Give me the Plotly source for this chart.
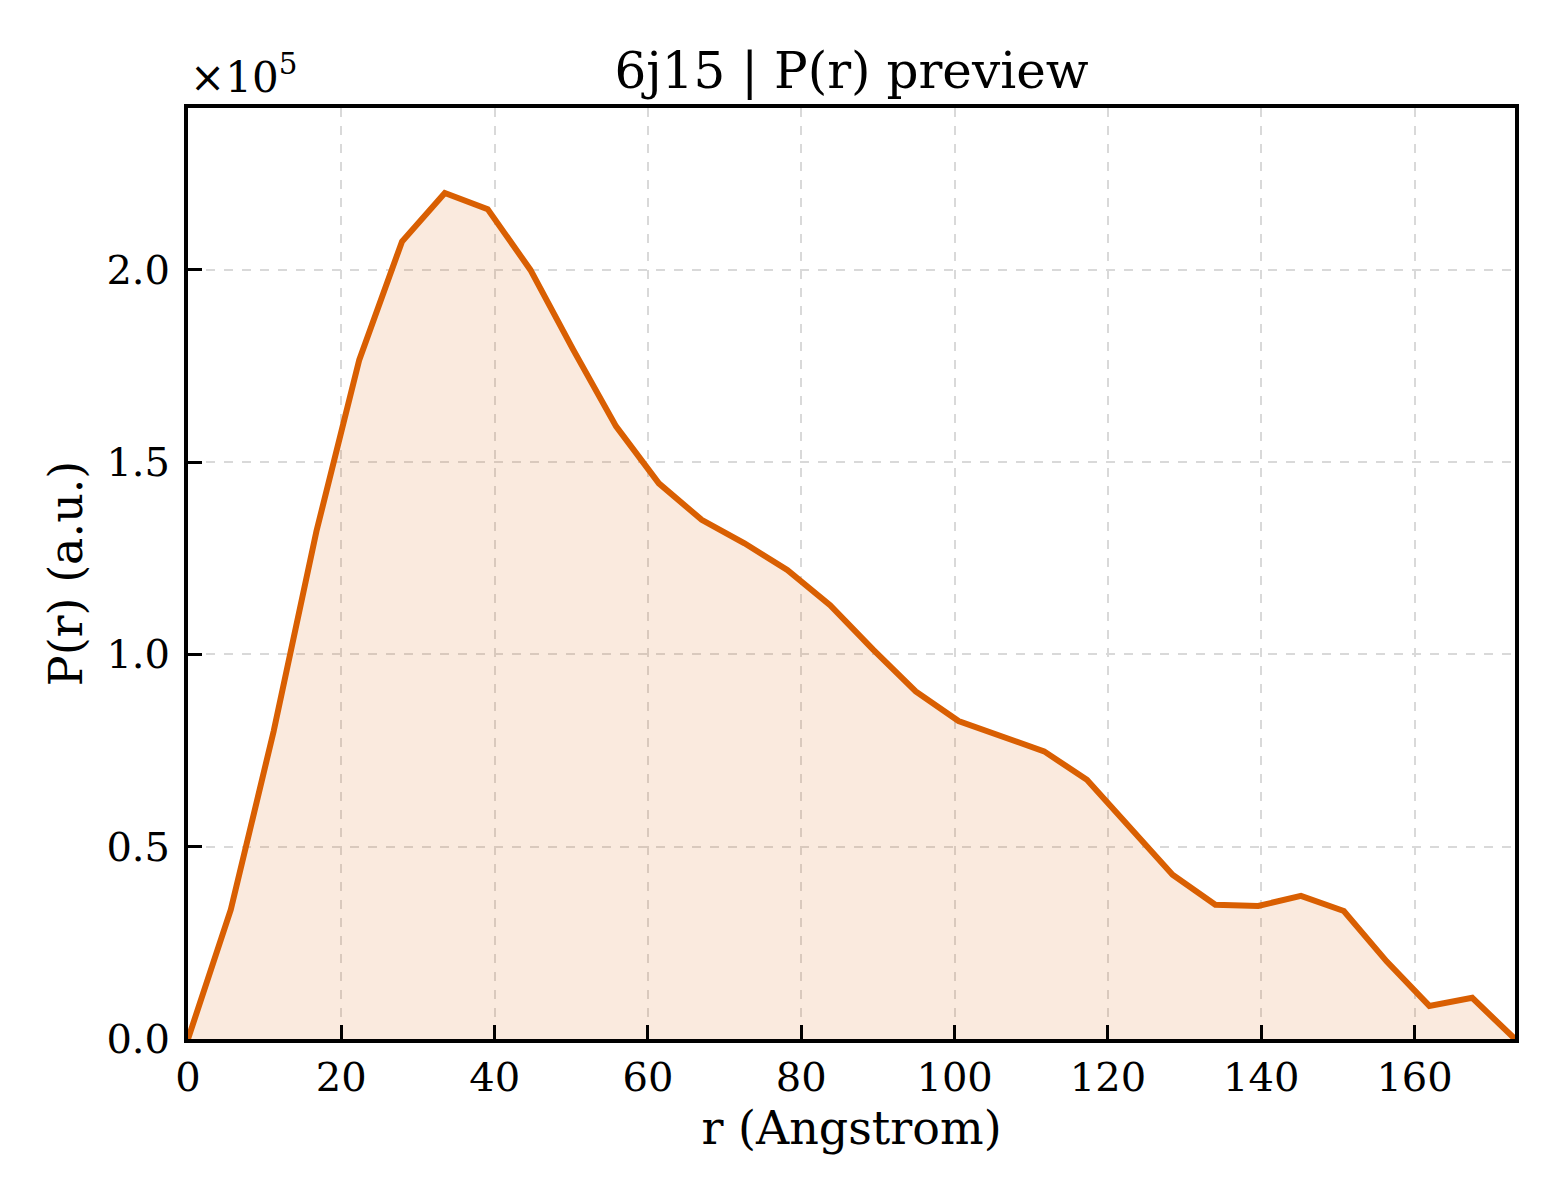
import plotly.graph_objects as go

_LINE = "#d95f02"
_FILL = "rgba(217, 95, 2, 0.13)"
_GRID = "#d9d9d9"
_FONT = "DejaVu Serif"

# P(r) curve
r_values = [
    0.00, 5.58, 11.17, 16.75, 22.34, 27.92, 33.50, 39.09, 44.67, 50.26,
    55.84, 61.42, 67.01, 72.59, 78.17, 83.76, 89.34, 94.93, 100.51, 106.09,
    111.68, 117.26, 122.85, 128.43, 134.01, 139.60, 145.18, 150.77, 156.35, 161.93,
    167.52, 173.10,
]
pr_values = [
    0, 33600, 80000, 132000, 176600, 207400, 220000, 215800, 200000, 179200,
    159300, 144500, 135000, 128900, 122000, 112800, 101300, 90400, 82700, 78600,
    74800, 67400, 55300, 42700, 34900, 34600, 37200, 33300, 20200, 8600,
    10700, 0,
]

y_tick_vals = [0, 50000, 100000, 150000, 200000]
y_tick_text = ["0.0", "0.5", "1.0", "1.5", "2.0"]
x_tick_vals = [0, 20, 40, 60, 80, 100, 120, 140, 160]

fig = go.Figure(go.Scatter(
    x=r_values,
    y=pr_values,
    mode="lines",
    line={"color": _LINE, "width": 6},
    fill="tozeroy",
    fillcolor=_FILL,
    hoverinfo="skip",
    showlegend=False,
))

axis_common = {
    "showline": True,
    "linecolor": "black",
    "linewidth": 4,
    "mirror": True,
    "ticks": "inside",
    "ticklen": 14,
    "tickwidth": 3,
    "tickcolor": "black",
    "showgrid": True,
    "gridcolor": _GRID,
    "gridwidth": 2,
    "griddash": "dash",
    "zeroline": False,
    "tickfont": {"family": _FONT, "size": 40, "color": "black"},
}

# the page body adds 8px around the figure, so size and margins allow for it
fig.update_layout(
    width=1552,
    height=1192,
    paper_bgcolor="white",
    plot_bgcolor="white",
    margin={"l": 180, "r": 45, "t": 100, "b": 161},
    font={"family": _FONT, "color": "black"},
    title={
        "text": "6j15 | P(r) preview",
        "font": {"family": _FONT, "size": 50},
        "x": 0.5,
        "xref": "paper",
        "y": 1 - 62 / 1192,
        "yref": "container",
        "xanchor": "center",
        "yanchor": "middle",
    },
    xaxis={
        **axis_common,
        "range": [0, 173.1],
        "tickvals": x_tick_vals,
        "title": {"text": "r (Angstrom)", "font": {"family": _FONT, "size": 46}, "standoff": 14},
    },
    yaxis={
        **axis_common,
        "range": [0, 242100],
        "tickvals": y_tick_vals,
        "ticktext": y_tick_text,
        "ticklabelstandoff": 6,
        "title": {"text": "P(r) (a.u.)", "font": {"family": _FONT, "size": 46}, "standoff": 10},
    },
    annotations=[{
        "text": "×10<sup>5</sup>",
        "xref": "paper",
        "yref": "paper",
        "x": 0,
        "y": 1,
        "xanchor": "left",
        "yanchor": "bottom",
        "yshift": 4,
        "showarrow": False,
        "font": {"family": _FONT, "size": 42},
    }],
)

fig.write_html("out.html")
